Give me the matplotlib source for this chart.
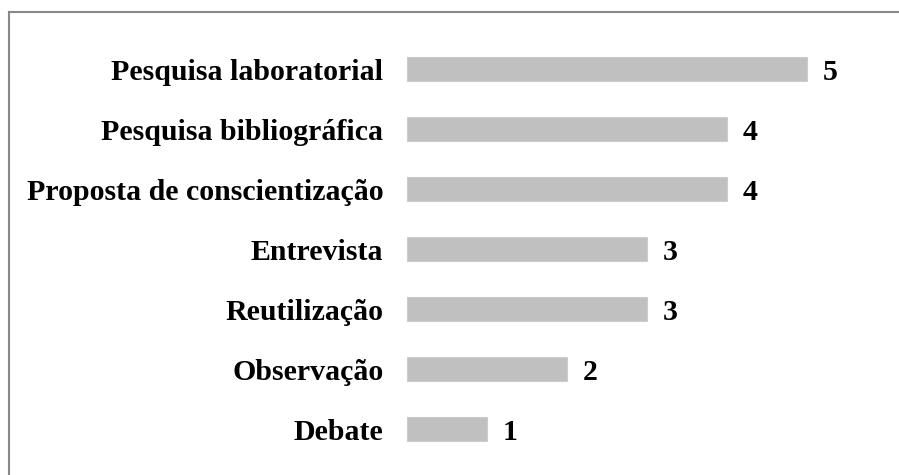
import matplotlib.pyplot as plt
from matplotlib.lines import Line2D

# dados do grafico (de cima para baixo)
categorias = ["Pesquisa laboratorial", "Pesquisa bibliográfica", "Proposta de conscientização",
              "Entrevista", "Reutilização", "Observação", "Debate"]
valores = [5, 4, 4, 3, 3, 2, 1]

plt.rcParams['font.family'] = ['Liberation Serif', 'DejaVu Serif']

W, H = 899, 475
fig = plt.figure(figsize=(W / 100, H / 100), dpi=100)
ax = fig.add_axes([407 / W, 1 - 459 / H, 480 / W, 420 / H])

pos = list(range(len(categorias)))
ax.barh(pos, valores, height=0.4, color='#c0c0c0', edgecolor='#cccccc', linewidth=0.8)
ax.set_xlim(0, 6)
ax.set_ylim(len(categorias) - 0.5, -0.5)

ax.set_yticks(pos)
ax.set_yticklabels(categorias, fontsize=21.5, fontweight='bold')
ax.tick_params(axis='y', length=0, pad=17)
ax.set_xticks([])
for s in ax.spines.values():
    s.set_visible(False)

for p, v in zip(pos, valores):
    ax.annotate(str(v), (v, p), xytext=(11, 0), textcoords='offset points',
                ha='left', va='center_baseline', fontsize=21.5, fontweight='bold')

# moldura cinza (so topo e esquerda visiveis)
fig.add_artist(Line2D([9 / W, 1], [1 - 12 / H, 1 - 12 / H], color='#888888', lw=1.5))
fig.add_artist(Line2D([9 / W, 9 / W], [1 - 12 / H, 0], color='#888888', lw=1.5))

fig.savefig('out.png', dpi=100)
